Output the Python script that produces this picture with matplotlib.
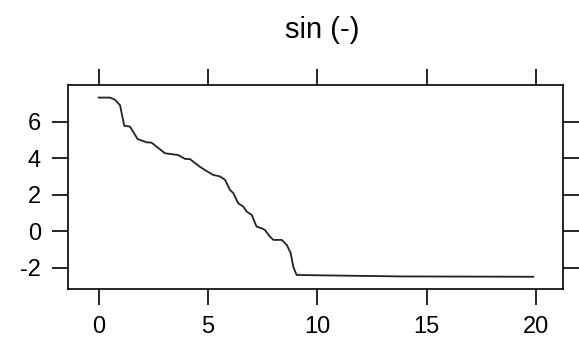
import matplotlib
matplotlib.use("Agg")
import matplotlib.pyplot as plt

plt.rcParams['font.family'] = ['Liberation Sans', 'DejaVu Sans']

# curve
x_vals = [0.0, 0.52, 0.75, 0.98, 1.17, 1.43, 1.58, 1.78, 2.19, 2.42, 3.03, 3.64,
          3.95, 4.17, 4.63, 4.86, 5.24, 5.55, 5.78, 6.0, 6.16, 6.38, 6.61, 6.77,
          7.0, 7.22, 7.45, 7.6, 7.83, 7.99, 8.37, 8.6, 8.78, 8.9, 9.05, 10.12,
          13.78, 19.87]
y_vals = [7.32, 7.32, 7.2, 6.9, 5.78, 5.73, 5.45, 5.05, 4.87, 4.85, 4.27, 4.17,
          3.96, 3.95, 3.53, 3.35, 3.08, 3.0, 2.81, 2.27, 2.08, 1.53, 1.35, 1.07,
          0.89, 0.25, 0.16, 0.07, -0.3, -0.48, -0.48, -0.75, -1.2, -1.95, -2.4,
          -2.42, -2.48, -2.5]

x_ticks = [0, 5, 10, 15, 20]
y_ticks = [-2, 0, 2, 4, 6]
title = "sin (-)"

fig = plt.figure(figsize=(5.79, 3.40), dpi=100)
ax = fig.add_axes([68 / 579, 1 - 289 / 340, (563 - 68) / 579, (289 - 85) / 340])

ax.plot(x_vals, y_vals, color='#222222', lw=1.3)

ax.set_xlim(-1.4, 21.23)
ax.set_ylim(-3.17, 8.01)
ax.set_xticks(x_ticks)
ax.set_yticks(y_ticks)
ax.set_yticklabels([str(t) for t in y_ticks])
ax.tick_params(direction='out', length=11.5, width=1.2, labelsize=17,
               top=True, right=True, labeltop=False, labelright=False, pad=8)
for s in ax.spines.values():
    s.set_linewidth(1.2)

fig.text(322 / 579, 1 - 30 / 340, title, ha='center', va='center', fontsize=21)

fig.savefig('out.png', dpi=100)
